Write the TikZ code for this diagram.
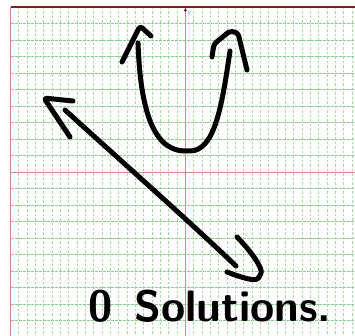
\documentclass[tikz,border=0pt]{standalone}
\usepackage{xcolor}
\usepackage{tikz}
\usetikzlibrary{arrows.meta, positioning}
\definecolor{gridgreen}{HTML}{A8D8A8}
\definecolor{rowgreen}{HTML}{8CCB8C}
\definecolor{axisred}{HTML}{D48A8A}
\definecolor{framered}{HTML}{8B1A1A}

\begin{document}
\begin{tikzpicture}[
    x=1pt, y=-1pt,
    colline/.style={gridgreen, line width=0.8pt, dash pattern=on 2.5pt off 2pt},
    rowline/.style={rowgreen, line width=0.8pt, dash pattern=on 3pt off 1pt},
    axisline/.style={axisred, line width=0.9pt},
    pen/.style={line width=5pt, line cap=round, line join=round, rounded corners=3pt},
    label/.style={inner sep=0pt, font=\fontsize{44}{44}\selectfont\sffamily\bfseries}
]
\useasboundingbox[fill=white] (0,0) rectangle (355,336);
\foreach \k in {1,...,41} \draw[colline] (10.5+8.33*\k,7) -- (10.5+8.33*\k,336);
\foreach \k in {1,...,19} \draw[rowline] (10.5,7+16.5*\k) -- (355,7+16.5*\k);
\draw[axisline] (185.4,7) -- (185.4,336);
\draw[axisline] (10.5,172) -- (355,172);
\draw[axisline] (10.5,7) -- (10.5,336);
\draw[framered, line width=1.2pt] (10.5,7) -- (355,7);
\draw[framered, -{Triangle[length=3pt,width=3pt]}] (185.4,12) -- (185.4,8);
\node (ylabel) [gray, inner sep=0pt, font=\fontsize{5}{5}\selectfont] at (189,13) {$y$};

\draw[pen] (138,43) .. controls (140,100) and (150,150) .. (187,151)
    .. controls (215,151) and (222,105) .. (230,51);
\draw[pen] (122,62) -- (140,26) -- (151,36);
\draw[pen] (212,57) -- (214,44) -- (230,31) -- (238,33) -- (247,70);

\draw[pen] (65,110) .. controls (120,160) and (190,222) .. (236,266);
\draw[pen] (73,101) -- (44,98) -- (70,137);
\draw[pen] (237,237) .. controls (250,250) and (263,268) .. (260,276)
    .. controls (255,282) and (240,277) .. (227,272);

\node (answer) [label, anchor=base west] at (88,321) {0\hspace{0.5em}Solutions.};
\end{tikzpicture}
\end{document}
